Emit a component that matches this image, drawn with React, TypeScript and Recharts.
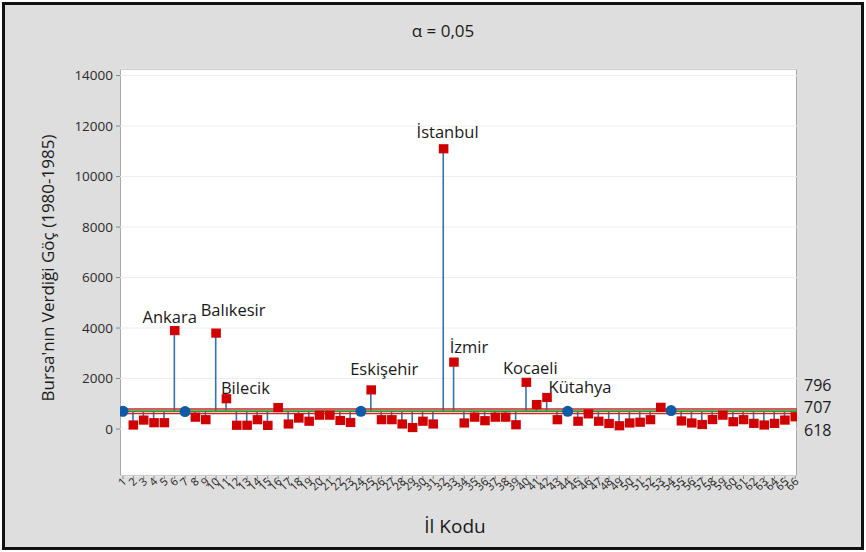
import {
  ComposedChart,
  Bar,
  Scatter,
  XAxis,
  YAxis,
  CartesianGrid,
  ReferenceLine,
} from 'recharts';

// ANOM: Bursa'dan illere göç (1980-1985), alfa = 0,05
const UDL = 796;
const CL = 707;
const LDL = 618;

const ilKodu = [
  1, 2, 3, 4, 5, 6, 7, 8, 9, 10, 11, 12, 13, 14, 15, 16, 17, 18, 19, 20, 21, 22,
  23, 24, 25, 26, 27, 28, 29, 30, 31, 32, 33, 34, 35, 36, 37, 38, 39, 40, 41, 42,
  43, 44, 45, 46, 47, 48, 49, 50, 51, 52, 53, 54, 55, 56, 57, 58, 59, 60, 61, 62,
  63, 64, 65, 66,
];

const goc = [
  700, 160, 355, 250, 250, 3900, 690, 470, 370, 3800, 1200, 150, 150, 370, 145,
  850, 200, 435, 310, 550, 550, 340, 260, 700, 1550, 370, 370, 200, 60, 310, 200,
  11100, 2650, 240, 470, 330, 470, 470, 170, 1850, 970, 1250, 370, 700, 310, 600,
  310, 220, 130, 240, 270, 370, 860, 730, 320, 240, 180, 375, 550, 290, 370, 225,
  160, 225, 355, 485,
];

const etiketKodu = [6, 10, 11, 25, 32, 33, 40, 42];
const etiketAdi = ['Ankara', 'Balıkesir', 'Bilecik', 'Eskişehir', 'İstanbul', 'İzmir', 'Kocaeli', 'Kütahya'];

const yTicks = [0, 2000, 4000, 6000, 8000, 10000, 12000, 14000];

const rows = ilKodu.map((kod, i) => ({
  kod,
  goc: goc[i],
  stem: [CL, goc[i]],
  etiket: etiketKodu.includes(kod) ? etiketAdi[etiketKodu.indexOf(kod)] : '',
}));

// label offsets relative to the marker (dx to text centre, dy to baseline)
const etiketKonum: Record<string, [number, number]> = {
  Ankara: [-5, -8],
  'Balıkesir': [17, -17],
  Bilecik: [19, -5],
  'Eskişehir': [13, -15],
  'İstanbul': [4, -11],
  'İzmir': [15, -9],
  Kocaeli: [4, -8],
  'Kütahya': [33, -4],
};

const W = 866;
const H = 552;
const plot = { left: 120, top: 69, right: 797, bottom: 476 };
const font = '"Open Sans", "Noto Sans", sans-serif';

function Marker(props: any) {
  const { cx, cy, payload } = props;
  const inside = payload.goc <= UDL && payload.goc >= LDL;
  const lbl = payload.etiket;
  const off = lbl ? etiketKonum[lbl] : [0, 0];
  return (
    <g>
      {inside ? (
        <circle cx={cx} cy={cy} r={5.5} fill="#0d5aa7" />
      ) : (
        <rect x={cx - 4.8} y={cy - 4.6} width={9.6} height={9.2} fill="#d10000" />
      )}
      {lbl && (
        <text
          x={cx + off[0]}
          y={cy + off[1]}
          textAnchor="middle"
          fontSize={16.5}
          fill="#1a1a1a"
          fontFamily={font}
        >
          {lbl}
        </text>
      )}
    </g>
  );
}

function XTick(props: any) {
  const { x, y, payload } = props;
  return (
    <g transform={`translate(${x},${y})`}>
      <text
        transform="rotate(-45)"
        textAnchor="end"
        dy={4}
        dx={2}
        fontSize={11}
        fill="#222"
        fontFamily={font}
      >
        {payload.value}
      </text>
    </g>
  );
}

function limitLabel(value: number, dy: number) {
  return (props: any) => {
    const vb = props.viewBox;
    return (
      <text
        x={vb.x + vb.width + 7}
        y={vb.y + dy}
        dominantBaseline="middle"
        fontSize={16}
        fill="#1a1a1a"
        fontFamily={font}
      >
        {value}
      </text>
    );
  };
}

export default function App() {
  return (
    <div
      style={{
        position: 'fixed',
        left: 0,
        top: 0,
        width: W,
        height: H,
        background: '#fff',
        fontFamily: font,
      }}
    >
      <div
        style={{
          position: 'absolute',
          left: 2,
          top: 2,
          width: W - 4,
          height: H - 4,
          boxSizing: 'border-box',
          border: '3px solid #111',
          background: '#dedede',
        }}
      />
      <div
        style={{
          position: 'absolute',
          left: plot.left,
          top: plot.top,
          width: plot.right - plot.left,
          height: plot.bottom - plot.top,
          boxSizing: 'border-box',
          border: '1px solid #a8a8a8',
          background: '#fff',
        }}
      />
      <div
        style={{
          position: 'absolute',
          left: 343,
          top: 19,
          width: 200,
          textAlign: 'center',
          fontSize: 17,
          color: '#1a1a1a',
        }}
      >
        α = 0,05
      </div>
      <div
        style={{
          position: 'absolute',
          left: 48 - 200,
          top: 268 - 12,
          width: 400,
          height: 24,
          lineHeight: '24px',
          textAlign: 'center',
          fontSize: 17,
          color: '#1a1a1a',
          transform: 'rotate(-90deg)',
        }}
      >
        Bursa'nın Verdiği Göç (1980-1985)
      </div>
      <div
        style={{
          position: 'absolute',
          left: 355,
          top: 513,
          width: 200,
          textAlign: 'center',
          fontSize: 19,
          color: '#1a1a1a',
        }}
      >
        İl Kodu
      </div>
      <div style={{ position: 'absolute', left: 0, top: 0 }}>
        <ComposedChart
          width={W}
          height={H}
          data={rows}
          margin={{ top: plot.top, right: W - plot.right, bottom: 36, left: 60 }}
        >
          <CartesianGrid horizontal vertical={false} stroke="#eeeeee" />
          <XAxis
            dataKey="kod"
            type="number"
            domain={[0.71, 66.17]}
            ticks={ilKodu}
            interval={0}
            allowDataOverflow
            height={40}
            tickSize={3}
            tickMargin={2}
            tickLine={{ stroke: '#888' }}
            axisLine={false}
            tick={<XTick />}
          />
          <YAxis
            type="number"
            domain={[-1860, 14260]}
            ticks={yTicks}
            allowDataOverflow
            width={60}
            tickSize={4}
            tickMargin={3}
            tickLine={{ stroke: '#888' }}
            axisLine={false}
            tick={{ fontSize: 13.5, fill: '#2a2a2a', fontFamily: font }}
          />
          <Bar
            dataKey="stem"
            barSize={1.6}
            fill="#3471b9"
            isAnimationActive={false}
          />
          <ReferenceLine y={UDL} stroke="#c62828" strokeWidth={1.5} label={limitLabel(UDL, -22)} />
          <ReferenceLine y={LDL} stroke="#c62828" strokeWidth={1.5} label={limitLabel(LDL, 18)} />
          <ReferenceLine y={CL} stroke="#2e962e" strokeWidth={1.8} label={limitLabel(CL, -2)} />
          <Scatter dataKey="goc" shape={<Marker />} isAnimationActive={false} />
        </ComposedChart>
      </div>
    </div>
  );
}
